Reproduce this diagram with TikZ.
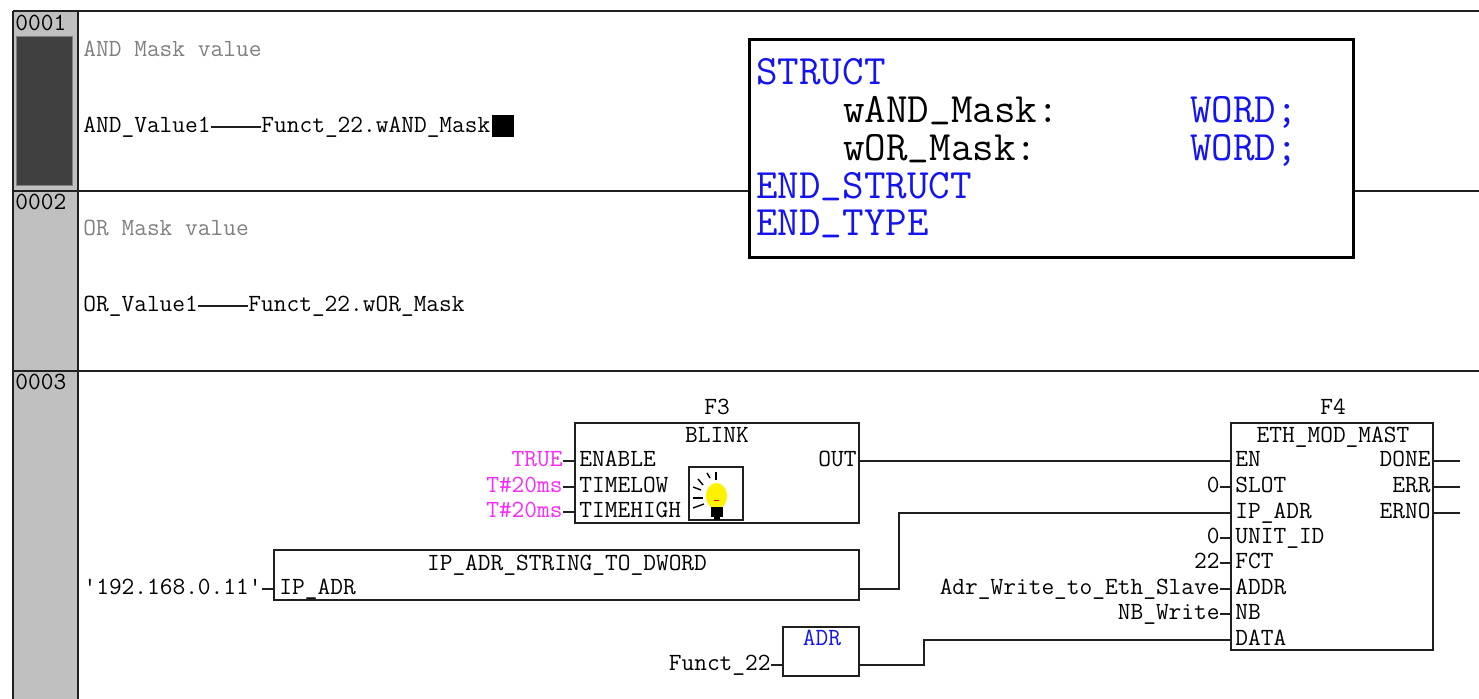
\documentclass[tikz,border=0pt]{standalone}
\usepackage{fontspec}
\usepackage{tikz}
\usetikzlibrary{positioning,calc}
\definecolor{railColor}{RGB}{192,192,192}
\definecolor{activeColor}{RGB}{64,64,64}
\definecolor{commentColor}{RGB}{128,128,128}
\definecolor{keyColor}{RGB}{20,20,240}
\definecolor{literalColor}{RGB}{250,40,250}
\definecolor{lineColor}{RGB}{32,32,32}
\newcommand{\stusc}{\raisebox{3pt}{\_}}
\tikzset{
  plcfont/.style={font=\fontsize{12.35}{12.35}\selectfont\ttfamily},
  structfont/.style={font=\fontsize{20.9}{20.9}\selectfont\ttfamily,inner sep=0pt,text height=13pt,text depth=3pt},
  txt/.style={plcfont,inner sep=0pt,text height=9.5pt,text depth=3.5pt},
  pinl/.style={txt,anchor=west},
  pinr/.style={txt,anchor=east},
  fbox/.style={draw=lineColor,line width=1pt,inner sep=0pt},
  wire/.style={draw=lineColor,line width=1pt},
  rowline/.style={draw=lineColor,line width=1pt}
}
\begin{document}
\begin{tikzpicture}[x=0.5pt,y=-0.5pt]
\useasboundingbox (0,0) rectangle (1479,699);
% rail and rows
\fill[railColor] (13,11) rectangle (77,699);
\node[fill=activeColor,draw=commentColor,line width=0.5pt,minimum width=28pt,minimum height=74.5pt,inner sep=0pt] (active) at (44.5,111.5) {};
\draw[rowline] (13,11) -- (1479,11);
\draw[rowline] (13,11) -- (13,699);
\draw[rowline] (78,11) -- (78,699);
\draw[rowline] (13,191) -- (1479,191);
\draw[rowline] (13,371) -- (1479,371);
\foreach \num/\y in {0001/25,0002/204,0003/384}
  \node[pinl] (row\num) at (15,\y) {\num};
% row 1 and 2
\node[pinl,text=commentColor] (cmtand) at (83,51) {AND Mask value};
\node[pinl,text=commentColor] (cmtor) at (83,230) {OR Mask value};
\node[pinl] (andval) at (83,127) {AND\_Value1};
\node[pinl] (andmask) at (261,127) {Funct\_22.wAND\_Mask};
\draw[wire] (andval) -- (andmask);
\node[fill=black,minimum width=11pt,minimum height=11pt,inner sep=0pt] (cursor) at (503,126) {};
\node[pinl] (orval) at (83,306) {OR\_Value1};
\node[pinl] (ormask) at (248,306) {Funct\_22.wOR\_Mask};
\draw[wire] (orval) -- (ormask);
% type box
\node[draw=black,fill=white,line width=1.5pt,minimum width=302pt,minimum height=109pt,inner sep=0pt] (typebox) at (1051,148.5) {};
\node[structfont,anchor=west,text=keyColor] (st1) at (756,75) {STRUCT};
\node[structfont,anchor=west] (st2) at (843,113) {wAND\stusc Mask:};
\node[structfont,anchor=west,text=keyColor] (st3) at (1190,113) {WORD;};
\node[structfont,anchor=west] (st4) at (843,151) {wOR\stusc Mask:};
\node[structfont,anchor=west,text=keyColor] (st5) at (1190,151) {WORD;};
\node[structfont,anchor=west,text=keyColor] (st6) at (756,189) {END\stusc STRUCT};
\node[structfont,anchor=west,text=keyColor] (st7) at (756,226) {END\stusc TYPE};
% blocks
\node[fbox,minimum width=142pt,minimum height=50pt] (f3) at (717,473) {};
\node[fbox,minimum width=292.5pt,minimum height=25pt] (ipconv) at (566.5,575) {};
\node[fbox,minimum width=101pt,minimum height=113.5pt] (f4) at (1332,536.5) {};
\node[fbox,minimum width=38pt,minimum height=24.5pt] (adr) at (821,651.5) {};
\node[txt] (f3name) at (717,409) {F3};
\node[txt] (f4name) at (1333,409) {F4};
\node[txt] (f3type) at (717,437) {BLINK};
\node[txt] (iptype) at (567,565) {IP\_ADR\_STRING\_TO\_DWORD};
\node[txt] (f4type) at (1333,437) {ETH\_MOD\_MAST};
\node[txt,text=keyColor] (adrtype) at (822,640) {ADR};
% F3 inputs
\foreach \val/\pin/\y in {TRUE/ENABLE/461,T\#20ms/TIMELOW/487,T\#20ms/TIMEHIGH/512}{
  \node[pinr,text=literalColor] (v\y) at (563,\y) {\val};
  \node[pinl] (a\y) at (579,\y) {\pin};
  \draw[wire] (v\y.east) -- (v\y.east -| f3.west);
}
\node[pinr] (f3out) at (857,461) {OUT};
% F4 inputs
\foreach \val/\pin/\y in {0/SLOT/487,0/UNIT\_ID/538,22/FCT/563,Adr\_Write\_to\_Eth\_Slave/ADDR/589,NB\_Write/NB/614}{
  \node[pinr] (w\y) at (1220,\y) {\val};
  \node[pinl] (b\y) at (1235,\y) {\pin};
  \draw[wire] (w\y.east) -- (w\y.east -| f4.west);
}
\foreach \pin/\y in {EN/461,IP\_ADR/513,DATA/640}
  \node[pinl] (b\y) at (1235,\y) {\pin};
% F4 outputs
\foreach \pin/\y in {DONE/461,ERR/487,ERNO/513}{
  \node[pinr] (q\y) at (1431,\y) {\pin};
  \coordinate (e\y) at (1460,\y);
  \draw[wire] (q\y.east -| f4.east) -- (e\y);
}
% other block pins
\node[pinr] (ipval) at (262,589) {\textquotesingle192.168.0.11\textquotesingle};
\node[pinl] (ippin) at (279,589) {IP\_ADR};
\node[pinr] (fval) at (771,665) {Funct\_22};
\draw[wire] (ipval.east) -- (ipval.east -| ipconv.west);
\draw[wire] (fval.east) -- (fval.east -| adr.west);
% wires between blocks
\draw[wire] (f3out.east -| f3.east) -- (b461.west -| f4.west);
\coordinate (ipout) at (ipconv.east |- ippin);
\coordinate (adrout) at (adr.east |- fval);
\draw[wire] (ipout) -- (899,589) -- (899,513) -- (b513.west -| f4.west);
\draw[wire] (adrout) -- (924,665) -- (924,640) -- (b640.west -| f4.west);
% lamp icon
\node[fbox,fill=white,minimum width=27pt,minimum height=26.5pt] (lamp) at (716,493.5) {};
\fill[yellow] (716.5,496) ellipse (5.3pt and 6.5pt);
\fill[black] (711,507) rectangle (723,517);
\fill[black] (714,517) rectangle (720,520);
\fill[red] (714,500) rectangle (719,501.5);
\foreach \xa/\ya/\xb/\yb in {716/472/716/480,707/473/710/478,698/479/703/485,693/487/701/490,693/498/703/498,693/508/704/504}
  \draw[line width=0.7pt] (\xa,\ya) -- (\xb,\yb);
\end{tikzpicture}
\end{document}
